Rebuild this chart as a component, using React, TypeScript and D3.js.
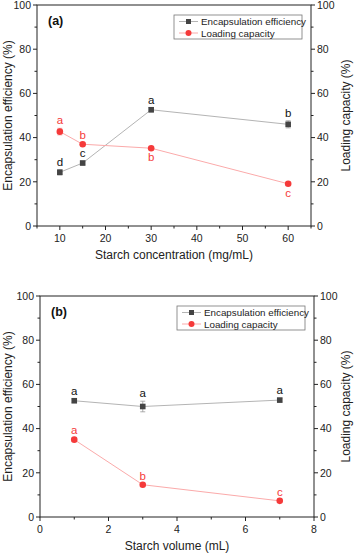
import * as d3 from 'd3';
import React, { useRef, useEffect } from 'react';

// panel (a): starch concentration
const concentrations = [10, 15, 30, 60];
const eeConc = [24.3, 28.5, 52.6, 46.0];
const eeConcErr = [1.2, 0.8, 1.0, 1.6];
const eeConcLetters = ['d', 'c', 'a', 'b'];
const lcConc = [42.7, 37.0, 35.2, 19.1];
const lcConcErr = [1.5, 0.6, 0.6, 0.5];
const lcConcLetters = ['a', 'b', 'b', 'c'];
const lcConcLetterSide = ['above', 'above', 'below', 'below'];

// panel (b): starch volume
const volumes = [1, 3, 7];
const eeVol = [52.6, 50.0, 52.9];
const eeVolErr = [0.8, 2.4, 0.8];
const eeVolLetters = ['a', 'a', 'a'];
const lcVol = [35.0, 14.6, 7.3];
const lcVolErr = [0.6, 0.5, 0.4];
const lcVolLetters = ['a', 'b', 'c'];
const lcVolLetterSide = ['above', 'above', 'above'];

const yTicks = [0, 20, 40, 60, 80, 100];
const seriesNames = ['Encapsulation efficiency', 'Loading capacity'];

const FONT = '"Liberation Sans", Arial, sans-serif';
const AXIS = '#222';
const EE_COLOR = '#444';
const EE_LINE = '#b4b4b4';
const LC_COLOR = '#f53a3a';
const LC_LINE = '#fbaaaa';

const panels = [
    {
        tag: '(a)', left: 37, right: 311, top: 5, bottom: 226,
        xDomain: [5, 65], xMajor: [10, 20, 30, 40, 50, 60], xMinorStep: 5,
        xTitle: 'Starch concentration (mg/mL)',
        xs: concentrations, ee: eeConc, eeErr: eeConcErr, eeLetters: eeConcLetters,
        lc: lcConc, lcErr: lcConcErr, lcLetters: lcConcLetters, lcSide: lcConcLetterSide,
    },
    {
        tag: '(b)', left: 40, right: 314, top: 296, bottom: 517,
        xDomain: [0, 8], xMajor: [0, 2, 4, 6, 8], xMinorStep: 1,
        xTitle: 'Starch volume (mL)',
        xs: volumes, ee: eeVol, eeErr: eeVolErr, eeLetters: eeVolLetters,
        lc: lcVol, lcErr: lcVolErr, lcLetters: lcVolLetters, lcSide: lcVolLetterSide,
    },
];

function App() {
    const ref = useRef(null);

    useEffect(() => {
        let svg = d3.select(ref.current);
        svg.selectAll('*').remove();
        panels.forEach(p => drawPanel(svg, p));
    }, []);

    const drawPanel = (svg, p) => {
        let x = d3.scaleLinear().domain(p.xDomain).range([p.left, p.right]);
        let y = d3.scaleLinear().domain([0, 100]).range([p.bottom, p.top]);
        let g = svg.append('g');

        // minor ticks
        let xMinor = d3.range(p.xDomain[0], p.xDomain[1] + 0.001, p.xMinorStep)
            .filter(v => !p.xMajor.includes(v));
        let yMinor = d3.range(10, 100, 20);

        g.selectAll('.xmaj').data(p.xMajor).enter().append('line')
            .attr('x1', d => x(d)).attr('x2', d => x(d))
            .attr('y1', p.bottom).attr('y2', p.bottom + 4)
            .attr('stroke', AXIS);
        g.selectAll('.xmin').data(xMinor).enter().append('line')
            .attr('x1', d => x(d)).attr('x2', d => x(d))
            .attr('y1', p.bottom).attr('y2', p.bottom + 2.5)
            .attr('stroke', AXIS);
        [p.left, p.right].forEach((ax, i) => {
            let dir = i === 0 ? -1 : 1;
            g.selectAll('.ymaj' + i).data(yTicks).enter().append('line')
                .attr('x1', ax).attr('x2', ax + dir * 4)
                .attr('y1', d => y(d)).attr('y2', d => y(d))
                .attr('stroke', AXIS);
            g.selectAll('.ymin' + i).data(yMinor).enter().append('line')
                .attr('x1', ax).attr('x2', ax + dir * 2.5)
                .attr('y1', d => y(d)).attr('y2', d => y(d))
                .attr('stroke', AXIS);
            g.selectAll('.ylab' + i).data(yTicks).enter().append('text')
                .attr('x', ax + dir * 6)
                .attr('y', d => y(d) + 3.7)
                .attr('text-anchor', i === 0 ? 'end' : 'start')
                .attr('font-family', FONT).attr('font-size', 10.5).attr('fill', '#222')
                .text(d => d);
        });
        g.selectAll('.xlab').data(p.xMajor).enter().append('text')
            .attr('x', d => x(d)).attr('y', p.bottom + 15.5)
            .attr('text-anchor', 'middle')
            .attr('font-family', FONT).attr('font-size', 10.5).attr('fill', '#222')
            .text(d => d);

        // frame
        g.append('rect')
            .attr('x', p.left).attr('y', p.top)
            .attr('width', p.right - p.left).attr('height', p.bottom - p.top)
            .attr('fill', 'none').attr('stroke', AXIS).attr('stroke-width', 1);

        // titles
        let midY = (p.top + p.bottom) / 2;
        g.append('text')
            .attr('transform', `translate(12,${midY}) rotate(-90)`)
            .attr('text-anchor', 'middle')
            .attr('font-family', FONT).attr('font-size', 12).attr('fill', '#222')
            .text('Encapsulation efficiency (%)');
        g.append('text')
            .attr('transform', `translate(350,${midY}) rotate(-90)`)
            .attr('text-anchor', 'middle')
            .attr('font-family', FONT).attr('font-size', 12).attr('fill', '#222')
            .text('Loading capacity (%)');
        g.append('text')
            .attr('x', (p.left + p.right) / 2).attr('y', p.bottom + 33)
            .attr('text-anchor', 'middle')
            .attr('font-family', FONT).attr('font-size', 12).attr('fill', '#222')
            .text(p.xTitle);
        g.append('text')
            .attr('x', p.left + 11).attr('y', p.top + 20)
            .attr('font-family', FONT).attr('font-size', 12.5).attr('font-weight', 'bold')
            .attr('fill', '#111')
            .text(p.tag);

        let line = d3.line().x(d => x(d[0])).y(d => y(d[1]));
        let series = [
            { vals: p.ee, err: p.eeErr, letters: p.eeLetters, side: p.xs.map(() => 'above'),
              color: EE_COLOR, lineColor: EE_LINE, errColor: '#999', shape: 'square', textColor: '#111' },
            { vals: p.lc, err: p.lcErr, letters: p.lcLetters, side: p.lcSide,
              color: LC_COLOR, lineColor: LC_LINE, errColor: '#f7a0a0', shape: 'circle', textColor: LC_COLOR },
        ];

        series.forEach(s => {
            let pts = p.xs.map((v, i) => [v, s.vals[i]]);
            g.append('path').datum(pts)
                .attr('d', line).attr('fill', 'none')
                .attr('stroke', s.lineColor).attr('stroke-width', 1);

            // error bars
            let eb = g.selectAll(null).data(pts).enter().append('g');
            eb.append('line')
                .attr('x1', d => x(d[0])).attr('x2', d => x(d[0]))
                .attr('y1', (d, i) => y(d[1] - s.err[i])).attr('y2', (d, i) => y(d[1] + s.err[i]))
                .attr('stroke', s.errColor).attr('stroke-width', 0.8);
            [-1, 1].forEach(sg => {
                eb.append('line')
                    .attr('x1', d => x(d[0]) - 2.5).attr('x2', d => x(d[0]) + 2.5)
                    .attr('y1', (d, i) => y(d[1] + sg * s.err[i]))
                    .attr('y2', (d, i) => y(d[1] + sg * s.err[i]))
                    .attr('stroke', s.errColor).attr('stroke-width', 0.8);
            });

            if (s.shape === 'square') {
                g.selectAll(null).data(pts).enter().append('rect')
                    .attr('x', d => x(d[0]) - 2.8).attr('y', d => y(d[1]) - 2.8)
                    .attr('width', 5.6).attr('height', 5.6)
                    .attr('fill', s.color);
            } else {
                g.selectAll(null).data(pts).enter().append('circle')
                    .attr('cx', d => x(d[0])).attr('cy', d => y(d[1]))
                    .attr('r', 3.3).attr('fill', s.color);
            }

            g.selectAll(null).data(pts).enter().append('text')
                .attr('x', d => x(d[0]))
                .attr('y', (d, i) => s.side[i] === 'above'
                    ? y(d[1] + s.err[i]) - 4
                    : y(d[1]) + 13)
                .attr('text-anchor', 'middle')
                .attr('font-family', FONT).attr('font-size', 11.5).attr('fill', s.textColor)
                .text((d, i) => s.letters[i]);
        });

        // legend
        let lx = p.right - 9 - 128, ly = p.top + 10;
        g.append('rect')
            .attr('x', lx).attr('y', ly).attr('width', 128).attr('height', 24)
            .attr('fill', 'white').attr('stroke', '#777').attr('stroke-width', 0.8);
        seriesNames.forEach((name, i) => {
            let s = series[i];
            let ry = ly + 6.5 + i * 11.5;
            g.append('line')
                .attr('x1', lx + 5).attr('x2', lx + 24)
                .attr('y1', ry).attr('y2', ry)
                .attr('stroke', s.lineColor).attr('stroke-width', 1);
            if (s.shape === 'square') {
                g.append('rect').attr('x', lx + 14.5 - 2.5).attr('y', ry - 2.5)
                    .attr('width', 5).attr('height', 5).attr('fill', s.color);
            } else {
                g.append('circle').attr('cx', lx + 14.5).attr('cy', ry)
                    .attr('r', 3).attr('fill', s.color);
            }
            g.append('text')
                .attr('x', lx + 27).attr('y', ry + 3.5)
                .attr('font-family', FONT).attr('font-size', 9.8).attr('fill', '#222')
                .text(name);
        });
    };

    return (
        <svg ref={ref} width={354} height={554}
            style={{ position: 'absolute', left: 0, top: 0, background: 'white' }}>
        </svg>
    );
}

export default App;
